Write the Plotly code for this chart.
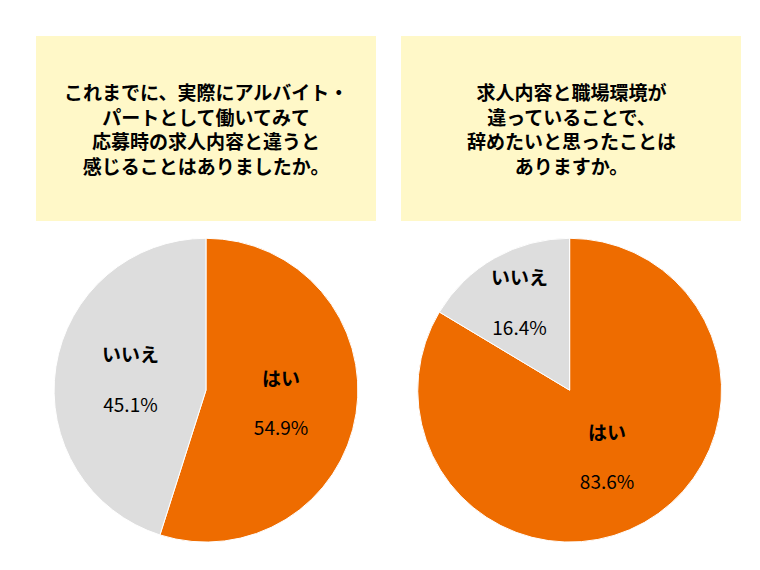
import plotly.graph_objects as go

labels = ["はい", "いいえ"]
left_values = [54.9, 45.1]
right_values = [83.6, 16.4]
left_title = "これまでに、実際にアルバイト・<br>パートとして働いてみて<br>応募時の求人内容と違うと<br>感じることはありましたか。"
right_title = "求人内容と職場環境が<br>違っていることで、<br>辞めたいと思ったことは<br>ありますか。"
colors = ["#EE6C00", "#DDDDDD"]

W, H = 760, 570
fig = go.Figure()
for vals, dom in [(left_values, [0.0605, 0.4605]), (right_values, [0.539, 0.939])]:
    fig.add_trace(go.Pie(
        labels=labels, values=vals, sort=False, direction="clockwise", rotation=0,
        marker=dict(colors=colors, line=dict(color="white", width=1)),
        texttemplate="<b>%{label}</b><br><br>%{value:.1f}%", textposition="inside",
        insidetextorientation="horizontal",
        textfont=dict(size=19, color="black", family="Noto Sans CJK JP"),
        domain=dict(x=dom, y=[0.063, 0.596]), showlegend=False, hoverinfo="skip"))

for x0, x1, t in [(28, 368, left_title), (393, 733, right_title)]:
    fig.add_shape(type="rect", xref="paper", yref="paper", x0=x0/W, x1=x1/W,
                  y0=1-213/H, y1=1-28/H, fillcolor="#FFF8C8", line_width=0, layer="below")
    fig.add_annotation(x=(x0+x1)/2/W, y=1-120/H, xref="paper", yref="paper",
                       xanchor="center", yanchor="middle",
                       text="<b>"+t+"</b>", showarrow=False, align="center",
                       font=dict(size=19, color="black", family="Noto Sans CJK JP"))

fig.update_layout(width=W, height=H, margin=dict(l=0, r=0, t=0, b=0),
                  paper_bgcolor="white", uniformtext=dict(minsize=12))
fig.write_html("out.html")
